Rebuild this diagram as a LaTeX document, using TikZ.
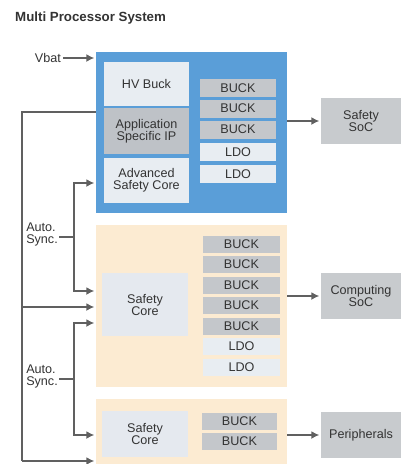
\documentclass[tikz,border=0pt]{standalone}
\usepackage{fontspec}
\setmainfont{Liberation Sans}
\usetikzlibrary{arrows.meta}
\definecolor{blueboxc}{HTML}{5A9ED8}
\definecolor{peachc}{HTML}{FCEBD2}
\definecolor{buckc}{HTML}{C4C7CB}
\definecolor{ldoc}{HTML}{E8EDF2}
\definecolor{ipc}{HTML}{BEC2C7}
\definecolor{socc}{HTML}{C8CBCE}
\definecolor{corec}{HTML}{E5E9EF}
\definecolor{linec}{HTML}{606060}
\definecolor{txtc}{HTML}{333333}
\tikzset{
  every node/.style={font=\fontsize{12.6}{12}\selectfont, text=txtc, align=center, inner sep=0pt},
  region/.style={fill=#1, draw=none},
  blk/.style={fill=#1, draw=none},
  conn/.style={draw=linec, line width=1.5pt},
  arr/.style={conn, -{Latex[length=8pt,width=8pt]}, shorten >=1.5pt},
}
\begin{document}
\begin{tikzpicture}[x=1pt,y=-1pt]
\useasboundingbox (0,0) rectangle (401,464);
\fill[white] (0,0) rectangle (401,464);
% title
\node[anchor=base west, font=\fontsize{13.3}{13}\selectfont\bfseries] (title) at (15,21.5) {Multi Processor System};
% regions
\node[region=blueboxc, minimum width=191pt, minimum height=161pt] (blue) at (191.5,132.5) {};
\node[region=peachc, minimum width=191pt, minimum height=162pt] (peach1) at (191.5,306) {};
\node[region=peachc, minimum width=191pt, minimum height=65pt] (peach2) at (191.5,431.5) {};
% blue box content
\node[blk=ldoc, minimum width=85pt, minimum height=44pt] (hv) at (146.5,84) {HV Buck};
\node[blk=ipc, minimum width=85pt, minimum height=46pt] (ip) at (146.5,131) {Application\\Specific IP};
\node[blk=ldoc, minimum width=85pt, minimum height=45pt] (adv) at (146.5,180.5) {Advanced\\Safety Core};
\foreach \y/\t/\c [count=\i] in {88/BUCK/buckc,108.5/BUCK/buckc,129.5/BUCK/buckc,152/LDO/ldoc,174/LDO/ldoc}
  \node[blk=\c, minimum width=76pt, minimum height=18pt] (b\i) at (238,\y) {\t};
% peach1 content
\node[blk=corec, minimum width=86pt, minimum height=63pt] (core1) at (145,304.5) {Safety\\Core};
\foreach \y/\t/\c [count=\i] in {244.5/BUCK/buckc,264.5/BUCK/buckc,285/BUCK/buckc,305.5/BUCK/buckc,326/BUCK/buckc,346.5/LDO/ldoc,367.5/LDO/ldoc}
  \node[blk=\c, minimum width=77pt, minimum height=17pt] (p\i) at (241.5,\y) {\t};
% peach2 content
\node[blk=corec, minimum width=86pt, minimum height=46pt] (core2) at (145,434) {Safety\\Core};
\foreach \y [count=\i] in {421,441.5}
  \node[blk=buckc, minimum width=75pt, minimum height=17pt] (q\i) at (239.5,\y) {BUCK};
% SoCs
\node[blk=socc, minimum width=80pt, minimum height=46pt] (ssoc) at (361,121) {Safety\\SoC};
\node[blk=socc, minimum width=80pt, minimum height=46pt] (csoc) at (361,296) {Computing\\SoC};
\node[blk=socc, minimum width=80pt, minimum height=46pt] (per) at (361,435) {Peripherals};
% outputs
\draw[arr] (blue.east |- ssoc.west) -- (ssoc.west);
\draw[arr] (peach1.east |- csoc.west) -- (csoc.west);
\draw[arr] (peach2.east |- per.west) -- (per.west);
% Vbat
\node[anchor=east] (vbat) at (61,58) {Vbat};
\draw[arr] (vbat.east) ++(2,0) -- (blue.west |- vbat.east);
% outer line
\coordinate (o1) at (22,112);
\coordinate (o2) at (22,307);
\coordinate (o3) at (22,461);
\draw[conn] (blue.west |- o1) -- (o1) -- (o3);
\draw[arr] (o3) -- (peach2.west |- o3);
\draw[arr] (o2) -- (peach1.west |- o2);
% auto sync 1
\coordinate (a1) at (74,183);
\coordinate (a2) at (74,291);
\coordinate (t1) at (74,237);
\draw[arr] (a2) -- (a1) -- (blue.west |- a1);
\draw[arr] (a1) -- (a2) -- (peach1.west |- a2);
\node[anchor=east, align=left] (as1) at (58,234) {Auto.\\Sync.};
\draw[conn] (59,237) -- (t1);
% auto sync 2
\coordinate (c1) at (74,323);
\coordinate (c2) at (74,435);
\coordinate (t2) at (74,379);
\draw[arr] (c2) -- (c1) -- (peach1.west |- c1);
\draw[arr] (c1) -- (c2) -- (peach2.west |- c2);
\node[anchor=east, align=left] (as2) at (58,376) {Auto.\\Sync.};
\draw[conn] (59,379) -- (t2);
\end{tikzpicture}
\end{document}
